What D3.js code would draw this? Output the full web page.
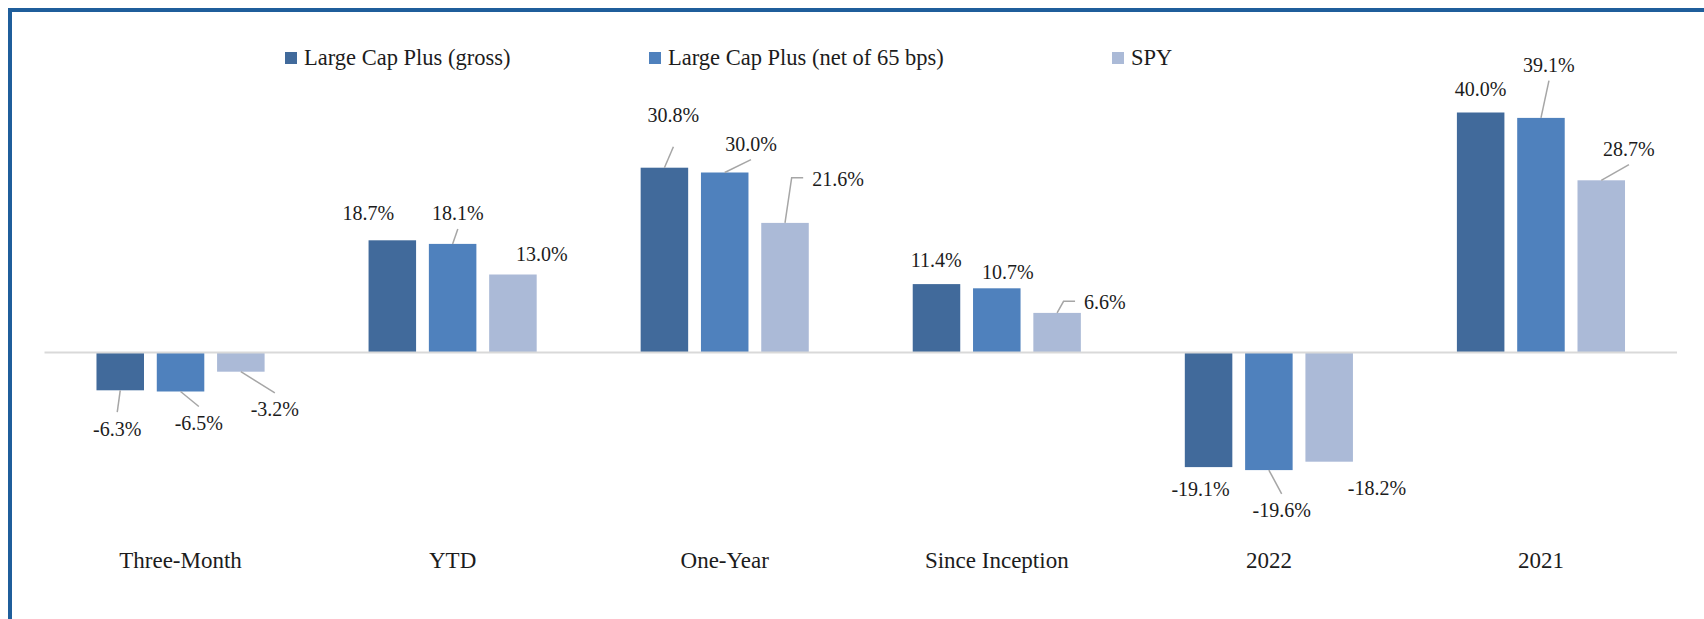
<!DOCTYPE html>
<html>
<head>
<meta charset="utf-8">
<script src="https://cdn.jsdelivr.net/npm/d3@7"></script>
<style>
  html, body { margin: 0; padding: 0; background: #ffffff; }
  svg { display: block; }
  svg text { font-family: "Liberation Serif", "DejaVu Serif", "Times New Roman", Times, serif; }
</style>
</head>
<body>
<svg id="chart" width="1704" height="619"></svg>
<script>
// ---------- data ----------
const categories = ["Three-Month", "YTD", "One-Year", "Since Inception", "2022", "2021"];
const seriesNames = ["Large Cap Plus (gross)", "Large Cap Plus (net of 65 bps)", "SPY"];
const grossValues = [-6.3, 18.7, 30.8, 11.4, -19.1, 40.0];
const netValues   = [-6.5, 18.1, 30.0, 10.7, -19.6, 39.1];
const spyValues   = [-3.2, 13.0, 21.6, 6.6, -18.2, 28.7];

// ---------- label placement (manual nudges, px: dx, dy, leader type, leader gap) ----------
const labelGross = [[-3, 16.4, "line"], [-24, -3.3, null], [9, -28.7, "line", 24.7], [-0.4, -0.4, null], [-8, 0, null], [0, 0.5, null]];
const labelNet   = [[18.3, 9.5, "line"], [5.2, -6.9, "line"], [26.3, -4.8, "line"], [11, 8, null], [12.8, 18.2, "line"], [8, -29.2, "line"]];
const labelSpy   = [[34, 15.6, "line"], [29, 3.2, null], [53, -20.2, "elbow"], [47.8, 13.4, "elbow"], [47.8, 4.6, null], [27.7, -7.6, "line"]];
const legendX    = [285, 649, 1112];

// ---------- styles ----------
const colors = ["#416A9B", "#4F81BD", "#ABBAD7"];
const seriesValues = [grossValues, netValues, spyValues];
const seriesLabels = [labelGross, labelNet, labelSpy];
const textColor = "#1c1c1c";
const leaderColor = "#A6A6A6";

const svg = d3.select("#chart");

// frame (top + left visible, rest off-canvas)
svg.append("rect")
  .attr("x", 10).attr("y", 10)
  .attr("width", 2000).attr("height", 2000)
  .attr("fill", "none")
  .attr("stroke", "#1F5E9B")
  .attr("stroke-width", 4);

// ---------- scales ----------
const x0 = d3.scaleBand().domain(categories).range([44.5, 1677]).paddingInner(0).paddingOuter(0);
const x1 = d3.scaleBand().domain(d3.range(3)).range([0, x0.bandwidth()]).paddingInner(0.212).paddingOuter(0.862);
const y = d3.scaleLinear().domain([-30, 45]).range([352.5 + 30 * 6, 352.5 - 45 * 6]);

// ---------- bars ----------
const rows = [];
seriesValues.forEach((vals, s) => {
  vals.forEach((v, c) => rows.push({ s, c, v, cat: categories[c], lab: seriesLabels[s][c] }));
});

svg.append("g").selectAll("rect")
  .data(rows)
  .join("rect")
  .attr("x", d => x0(d.cat) + x1(d.s))
  .attr("width", x1.bandwidth())
  .attr("y", d => Math.min(y(d.v), y(0)))
  .attr("height", d => Math.abs(y(d.v) - y(0)))
  .attr("fill", d => colors[d.s]);

// zero line
svg.append("line")
  .attr("x1", 44.5).attr("x2", 1677)
  .attr("y1", y(0)).attr("y2", y(0))
  .attr("stroke", "#D9D9D9")
  .attr("stroke-width", 2);

// ---------- data labels ----------
const fmt = v => v.toFixed(1) + "%";
const leaders = svg.append("g");
const labels = svg.append("g");

rows.forEach(d => {
  const cx = x0(d.cat) + x1(d.s) + x1.bandwidth() / 2;
  const edge = y(d.v);
  const [dx, dy, type, gapOverride] = d.lab;
  const lx = cx + dx;
  const base = d.v >= 0 ? edge - 17 + dy : edge + 29 + dy;
  const t = labels.append("text")
    .attr("x", lx).attr("y", base)
    .attr("text-anchor", "middle")
    .attr("font-size", 20)
    .attr("fill", textColor)
    .text(fmt(d.v));
  if (type === "line") {
    const endY = d.v >= 0 ? base + (gapOverride || 9) : base - 23.5;
    leaders.append("line")
      .attr("x1", cx).attr("y1", edge)
      .attr("x2", lx).attr("y2", endY)
      .attr("stroke", leaderColor).attr("stroke-width", 1.5);
  } else if (type === "elbow") {
    const w = t.node().getComputedTextLength();
    const left = lx - w / 2;
    const hy = base - 8;
    leaders.append("polyline")
      .attr("points", [[cx, edge], [left - 20.5, hy], [left - 9, hy]].map(p => p.join(",")).join(" "))
      .attr("fill", "none")
      .attr("stroke", leaderColor).attr("stroke-width", 1.5);
  }
});

// ---------- category labels ----------
svg.append("g").selectAll("text")
  .data(categories)
  .join("text")
  .attr("x", d => x0(d) + x0.bandwidth() / 2)
  .attr("y", 568)
  .attr("text-anchor", "middle")
  .attr("font-size", 23)
  .attr("fill", textColor)
  .text(d => d);

// ---------- legend ----------
const legend = svg.append("g");
seriesNames.forEach((name, i) => {
  legend.append("rect")
    .attr("x", legendX[i]).attr("y", 52)
    .attr("width", 12).attr("height", 12)
    .attr("fill", colors[i]);
  legend.append("text")
    .attr("x", legendX[i] + 19).attr("y", 65)
    .attr("font-size", 22.5)
    .attr("fill", textColor)
    .text(name);
});
</script>
</body>
</html>
